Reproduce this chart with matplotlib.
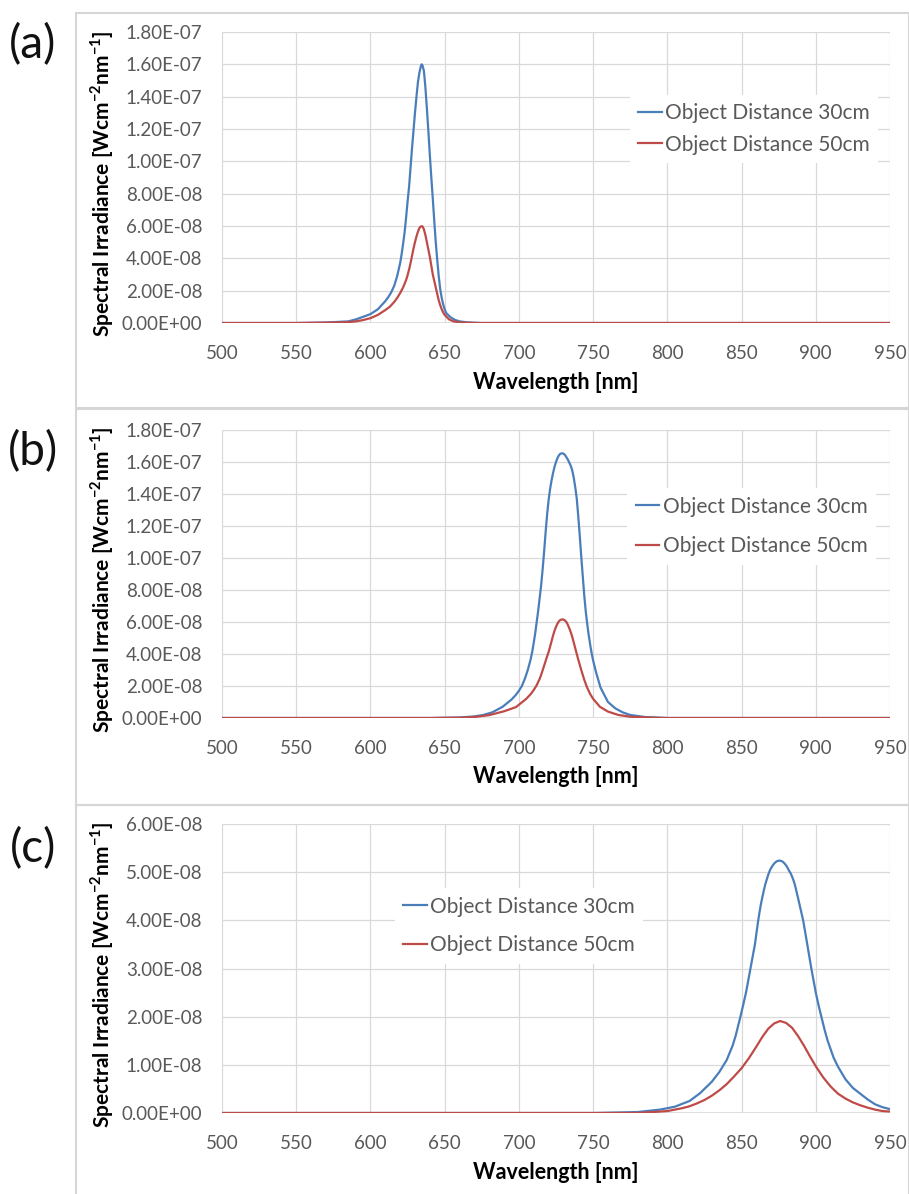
import matplotlib
matplotlib.use("Agg")
import matplotlib.pyplot as plt
from matplotlib.patches import Rectangle
from matplotlib.ticker import FuncFormatter, MultipleLocator

plt.rcParams['font.family'] = ['Lato', 'DejaVu Sans']
plt.rcParams['mathtext.fontset'] = 'custom'
plt.rcParams['mathtext.rm'] = 'Lato'
plt.rcParams['mathtext.bf'] = 'Lato:bold'

# ---- spectra (wavelength in nm, irradiance in 1e-8 W cm^-2 nm^-1) ----
wl_a_30 = [500, 550, 570, 585, 590, 595, 600, 605, 610, 612, 614, 616, 618, 620, 621, 622, 623, 624,
           625, 626, 627, 628, 629, 630, 631, 632, 633, 634, 634.5, 635, 636, 637, 638, 639, 640,
           641, 642, 643, 644, 645, 646, 647, 648, 649, 650, 651, 654, 657, 660, 665, 675, 700, 950]
ir_a_30 = [0, 0, 0.03, 0.1, 0.22, 0.38, 0.55, 0.85, 1.35, 1.6, 1.9, 2.3, 2.9, 3.7, 4.25, 4.9, 5.6,
           6.5, 7.5, 8.4, 9.6, 10.8, 11.9, 13.0, 14.0, 14.9, 15.5, 15.9, 16.0, 15.95, 15.6, 14.6,
           13.3, 11.9, 10.4, 9.0, 7.7, 6.3, 5.0, 3.9, 2.9, 2.1, 1.55, 1.15, 0.85, 0.62, 0.35, 0.19,
           0.1, 0.04, 0.0, 0, 0]
wl_a_50 = [500, 550, 570, 585, 590, 595, 600, 605, 610, 613, 616, 618, 620, 622, 624, 625, 626, 627,
           628, 629, 630, 631, 632, 633, 634, 635, 636, 637, 638, 639, 640, 641, 642, 643, 644, 645,
           646, 647, 648, 649, 650, 653, 656, 660, 670, 700, 950]
ir_a_50 = [0, 0, 0.02, 0.05, 0.1, 0.18, 0.3, 0.5, 0.8, 1.0, 1.3, 1.55, 1.85, 2.2, 2.65, 2.95, 3.3,
           3.7, 4.15, 4.6, 5.0, 5.35, 5.65, 5.88, 5.98, 5.98, 5.8, 5.45, 5.0, 4.55, 4.1, 3.55, 3.0,
           2.6, 2.2, 1.8, 1.4, 1.1, 0.85, 0.65, 0.5, 0.22, 0.1, 0.04, 0.0, 0, 0]

wl_b_30 = [500, 600, 640, 660, 670, 676, 682, 689, 695, 698, 700, 702, 704, 706, 708, 709, 710, 711,
           712, 713, 714, 715, 716, 717, 718, 719, 720, 721, 722, 723, 724, 725, 726, 727, 728, 729.5,
           731, 732, 733, 734, 735, 736, 737, 738, 739, 740, 741, 742, 743, 744, 745, 746, 747, 748,
           749, 750, 752, 755, 760, 765, 770, 775, 785, 800, 850, 950]
ir_b_30 = [0, 0, 0.0, 0.03, 0.1, 0.19, 0.35, 0.7, 1.15, 1.45, 1.7, 2.0, 2.45, 3.0, 3.7, 4.15, 4.7,
           5.3, 6.0, 6.7, 7.5, 8.3, 9.3, 10.4, 11.6, 12.7, 13.6, 14.3, 14.85, 15.3, 15.7, 16.0,
           16.25, 16.42, 16.52, 16.55, 16.45, 16.3, 16.15, 15.95, 15.75, 15.45, 15.0, 14.4, 13.7,
           12.6, 11.4, 10.1, 8.9, 7.7, 6.7, 5.9, 5.2, 4.6, 4.05, 3.6, 2.85, 1.9, 1.0, 0.6, 0.35,
           0.19, 0.06, 0.0, 0, 0]
wl_b_50 = [500, 600, 640, 660, 670, 680, 690, 698, 705, 708, 710, 712, 714, 715, 716, 717, 718, 719,
           720, 721, 722, 723, 724, 725, 726, 727, 728, 729.5, 731, 732, 733, 734, 735, 736, 737,
           738, 739, 740, 742, 744, 745.7, 748, 750, 754.6, 760, 767, 775, 790, 800, 850, 950]
ir_b_50 = [0, 0, 0.0, 0.02, 0.06, 0.18, 0.42, 0.68, 1.2, 1.5, 1.75, 2.05, 2.45, 2.7, 2.98, 3.27,
           3.56, 3.85, 4.12, 4.45, 4.8, 5.15, 5.45, 5.7, 5.9, 6.05, 6.13, 6.17, 6.1, 6.0, 5.82, 5.6,
           5.35, 5.05, 4.7, 4.35, 4.0, 3.65, 3.0, 2.4, 1.96, 1.5, 1.2, 0.7, 0.4, 0.19, 0.08, 0.02,
           0, 0, 0]

wl_c_30 = [500, 700, 750, 780, 795, 805, 815, 822, 830, 835, 840, 844, 846, 849, 851, 853, 856, 859,
           861, 862, 863, 864, 865, 866, 867, 868, 869, 870, 871, 872, 873, 874, 875.5, 877, 878,
           879, 880, 881, 882, 883, 884, 885, 886, 887, 888, 890, 891.5, 894, 897, 900, 902, 904,
           906, 908, 912, 915, 920, 925, 930, 935, 940, 945, 950]
ir_c_30 = [0, 0, 0.0, 0.02, 0.07, 0.13, 0.25, 0.41, 0.65, 0.85, 1.1, 1.4, 1.6, 1.97, 2.23, 2.5, 3.0,
           3.5, 3.95, 4.15, 4.33, 4.48, 4.62, 4.75, 4.85, 4.95, 5.03, 5.09, 5.14, 5.18, 5.21, 5.23,
           5.24, 5.23, 5.21, 5.18, 5.14, 5.09, 5.03, 4.98, 4.91, 4.83, 4.73, 4.6, 4.47, 4.2, 4.0,
           3.55, 3.0, 2.5, 2.22, 1.97, 1.72, 1.5, 1.15, 0.96, 0.7, 0.52, 0.4, 0.28, 0.18, 0.12, 0.08]
wl_c_50 = [500, 700, 780, 800, 810, 815, 820, 825, 830, 835, 840, 845, 850, 855, 860, 864, 868, 872,
           876, 880, 884, 888, 892, 896, 900, 905, 910, 915, 920, 925, 930, 935, 940, 945, 950]
ir_c_50 = [0, 0, 0.0, 0.04, 0.1, 0.14, 0.2, 0.27, 0.36, 0.47, 0.6, 0.76, 0.93, 1.14, 1.38, 1.58,
           1.75, 1.86, 1.91, 1.87, 1.77, 1.6, 1.4, 1.18, 0.97, 0.74, 0.55, 0.4, 0.3, 0.22, 0.16,
           0.11, 0.07, 0.04, 0.03]

panels = [
    ("(a)", wl_a_30, ir_a_30, wl_a_50, ir_a_50, 18, 2),
    ("(b)", wl_b_30, ir_b_30, wl_b_50, ir_b_50, 18, 2),
    ("(c)", wl_c_30, ir_c_30, wl_c_50, ir_c_50, 6, 1),
]
series_names = ["Object Distance 30cm", "Object Distance 50cm"]

BLUE = "#4a7ebb"
RED = "#be4b48"
GRID = "#d9d9d9"
TICK = "#595959"

W, H = 909, 1194
fig = plt.figure(figsize=(W / 100, H / 100), dpi=100)

# pixel boxes: (axes top, axes bottom, frame top, frame bottom, label y, legend anchor, spacing)
layout = [
    (32, 323, 13, 408, 45, (0.595, 0.667), 0.55),
    (430, 718, 409, 805, 452, (0.591, 0.665), 0.95),
    (824, 1113, 805, 1200, 849, (0.243, 0.647), 0.9),
]
ax_left, ax_right = 222, 890

for (tag, x1, y1, x2, y2, ymax, ystep), (top, bot, ftop, fbot, ly, anchor, spacing) in zip(panels, layout):
    # light frame around each chart
    fig.add_artist(Rectangle((76 / W, 1 - fbot / H), (W - 76) / W, (fbot - ftop) / H,
                             transform=fig.transFigure, fill=False, edgecolor="#d6d6d6", lw=1.5))
    fig.text(33 / W, 1 - ly / H, tag, fontsize=33, ha="center", va="center", color="#111111")

    ax = fig.add_axes([ax_left / W, 1 - bot / H, (ax_right - ax_left) / W, (bot - top) / H])
    ax.plot(x1, [v * 1e-8 for v in y1], color=BLUE, lw=1.6, label=series_names[0])
    ax.plot(x2, [v * 1e-8 for v in y2], color=RED, lw=1.6, label=series_names[1])

    ax.set_xlim(500, 950)
    ax.set_ylim(0, ymax * 1e-8)
    ax.xaxis.set_major_locator(MultipleLocator(50))
    ax.yaxis.set_major_locator(MultipleLocator(ystep * 1e-8))
    ax.yaxis.set_major_formatter(FuncFormatter(lambda v, p: f"{v:.2E}"))
    ax.grid(True, color=GRID, lw=0.9)
    ax.set_axisbelow(True)
    for s in ax.spines.values():
        s.set_visible(False)
    ax.axhline(0, color=GRID, lw=1.2, zorder=0)
    ax.tick_params(length=0, labelsize=13.5, labelcolor=TICK)
    ax.tick_params(axis="y", pad=14)
    ax.tick_params(axis="x", pad=16)

    ax.set_xlabel("Wavelength [nm]", fontsize=15.5, fontweight="bold")
    ax.xaxis.set_label_coords(0.5, -0.168)
    ax.set_ylabel(r"Spectral Irradiance [Wcm$^{\mathbf{-2}}$nm$^{\mathbf{-1}}$]",
                  fontsize=15, fontweight="bold")
    ax.yaxis.set_label_coords(-0.158, 0.48)

    leg = ax.legend(loc="center left", bbox_to_anchor=anchor, fontsize=15,
                    handlelength=1.15, handletextpad=0.15, labelspacing=spacing,
                    frameon=True, fancybox=False, borderpad=0.4)
    leg.get_frame().set_edgecolor("none")
    leg.get_frame().set_facecolor("white")
    leg.get_frame().set_alpha(1)
    for t in leg.get_texts():
        t.set_color(TICK)

fig.savefig("out.png", dpi=100)
